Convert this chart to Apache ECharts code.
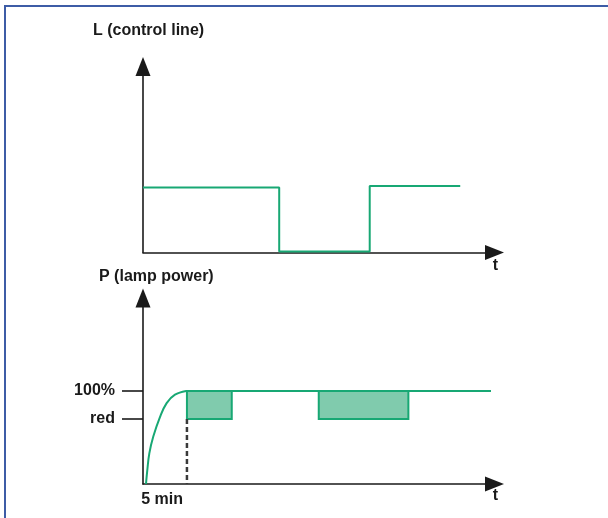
<!DOCTYPE html>
<html>
<head>
<meta charset="utf-8">
<script src="https://cdn.jsdelivr.net/npm/echarts@6/dist/echarts.min.js"></script>
<style>
  html, body { margin: 0; padding: 0; background: #fff; }
  #wrap { position: relative; width: 608px; height: 518px; overflow: hidden; background: #fff; }
  #frame { position: absolute; left: 4px; top: 5px; width: 700px; height: 700px;
           border-left: 2px solid #3d5ca6; border-top: 2px solid #3d5ca6; }
  #chart { position: absolute; left: 0; top: 0; width: 608px; height: 518px; }
</style>
</head>
<body>
<div id="wrap"><div id="frame"></div><div id="chart"></div></div>
<script>
// ---- data (time in minutes) ----
const timeMax = 40;
const levelMax = 200;
// control line L
const controlT = [0, 15.5, 15.5, 25.8, 25.8, 36.1];
const controlL = [70, 70, 1, 1, 71.5, 71.5];
// lamp power P: warm-up curve
const warmT = [0.34, 0.49, 0.72, 1.17, 1.93, 2.69, 3.64, 4.9];
const warmP = [0, 15, 33, 51, 72, 87, 96, 100];
// steady full power
const steadyT = [4.9, 39.6];
const steadyP = [100, 100];
// reduced-power periods
const reducedStart = [5, 20];
const reducedEnd = [10.1, 30.2];
const fullLevel = 100;
const redLevel = 70;
const warmupMark = 5;
// tick labels
const yTickValues = [70, 100];
const yTickLabels = ['red', '100%'];
const xTickValues = [5];
const xTickLabels = ['5 min'];
const titles = ['L (control line)', 'P (lamp power)'];

const GREEN = '#18a874';
const FILL = '#80cbad';
const AXIS = '#1a1a1a';
const FONT = '"Liberation Sans", Arial, sans-serif';

const chart = echarts.init(document.getElementById('chart'), null, { renderer: 'canvas' });

const zip = (a, b) => a.map((v, i) => [v, b[i]]);

function axisLineCfg() {
  return { show: true, lineStyle: { color: AXIS, width: 1.6 }, symbol: ['none', 'triangle'], symbolSize: [15, 19] };
}

const option = {
  animation: false,
  title: [
    { text: titles[0], left: 88, top: 18, padding: 5, textStyle: { fontFamily: FONT, fontSize: 16, fontWeight: 'bold', color: '#1a1a1a' } },
    { text: titles[1], left: 94, top: 264, padding: 5, textStyle: { fontFamily: FONT, fontSize: 16, fontWeight: 'bold', color: '#1a1a1a' } }
  ],
  grid: [
    { left: 143, top: 66.5, width: 351.5, height: 186 },
    { left: 143, top: 298, width: 351.5, height: 186 }
  ],
  xAxis: [
    { gridIndex: 0, type: 'value', min: 0, max: timeMax,
      axisLine: axisLineCfg(), axisTick: { show: false }, axisLabel: { show: false }, splitLine: { show: false },
      name: 't', nameLocation: 'end', nameGap: 1,
      nameTextStyle: { fontFamily: FONT, fontSize: 16, fontWeight: 'bold', color: '#1a1a1a', align: 'center', verticalAlign: 'top', padding: [5, 0, 0, 0] } },
    { gridIndex: 1, type: 'value', min: 0, max: timeMax,
      axisLine: axisLineCfg(), axisTick: { show: false }, splitLine: { show: false },
      axisLabel: { show: true, customValues: xTickValues, margin: 8, align: 'right', padding: [0, 4, 0, 0],
        formatter: v => xTickLabels[xTickValues.indexOf(v)] || '',
        fontFamily: FONT, fontSize: 16, fontWeight: 'bold', color: '#1a1a1a' },
      name: 't', nameLocation: 'end', nameGap: 1,
      nameTextStyle: { fontFamily: FONT, fontSize: 16, fontWeight: 'bold', color: '#1a1a1a', align: 'center', verticalAlign: 'top', padding: [4, 0, 0, 0] } }
  ],
  yAxis: [
    { gridIndex: 0, type: 'value', min: 0, max: levelMax,
      axisLine: axisLineCfg(), axisTick: { show: false }, axisLabel: { show: false }, splitLine: { show: false } },
    { gridIndex: 1, type: 'value', min: 0, max: levelMax,
      axisLine: axisLineCfg(), splitLine: { show: false },
      axisTick: { show: true, customValues: yTickValues, length: 21, lineStyle: { color: AXIS, width: 1.6 } },
      axisLabel: { show: true, customValues: yTickValues, margin: 28,
        formatter: v => yTickLabels[yTickValues.indexOf(v)] || '',
        fontFamily: FONT, fontSize: 16, fontWeight: 'bold', color: '#1a1a1a' } }
  ],
  series: [
    { type: 'line', xAxisIndex: 0, yAxisIndex: 0, data: zip(controlT, controlL), symbol: 'none',
      lineStyle: { color: GREEN, width: 2 }, z: 3 },
    { type: 'custom', xAxisIndex: 1, yAxisIndex: 1,
      data: reducedStart.map((s, i) => [s, reducedEnd[i], redLevel, fullLevel]),
      renderItem: function (params, api) {
        const p0 = api.coord([api.value(0), api.value(3)]);
        const p1 = api.coord([api.value(1), api.value(2)]);
        return { type: 'rect', shape: { x: p0[0], y: p0[1], width: p1[0] - p0[0], height: p1[1] - p0[1] },
          style: { fill: FILL, stroke: GREEN, lineWidth: 2 } };
      }, z: 2 },
    { type: 'line', xAxisIndex: 1, yAxisIndex: 1, data: [[warmupMark, redLevel], [warmupMark, 0]], symbol: 'none',
      lineStyle: { color: '#3a3a3a', width: 2.5, type: [5, 3] }, z: 2 },
    { type: 'line', xAxisIndex: 1, yAxisIndex: 1, data: zip(warmT, warmP), symbol: 'none', smooth: 0.4,
      lineStyle: { color: GREEN, width: 2 }, z: 3 },
    { type: 'line', xAxisIndex: 1, yAxisIndex: 1, data: zip(steadyT, steadyP), symbol: 'none',
      lineStyle: { color: GREEN, width: 2 }, z: 3 }
  ]
};
chart.setOption(option);
</script>
</body>
</html>
